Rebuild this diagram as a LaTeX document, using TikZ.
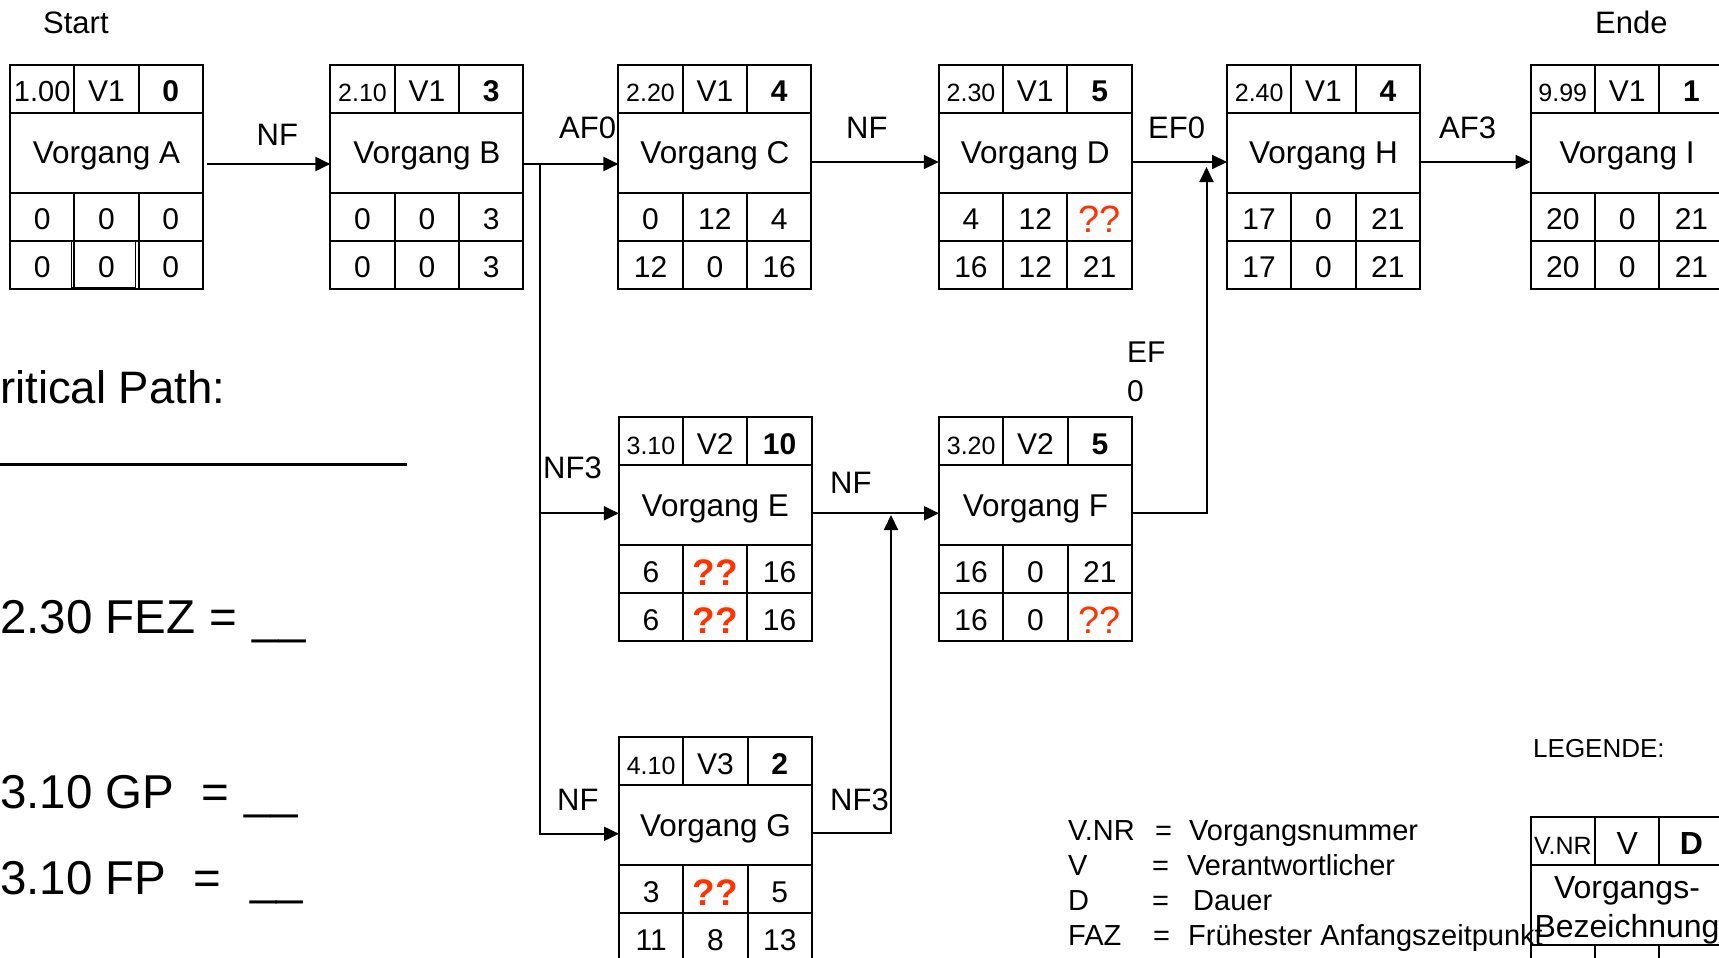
\documentclass[tikz,border=0pt]{standalone}
\usepackage{fontspec}
\setmainfont{Liberation Sans}
\usepackage{xcolor}
\usetikzlibrary{arrows.meta,positioning}

\definecolor{frage}{RGB}{255,51,0}
\newcommand{\fraglich}{\raisebox{-3pt}{\textcolor{frage}{\fontsize{38}{38}\selectfont ??}}}
\newcommand{\fraglichfett}{\raisebox{-3pt}{\textcolor{frage}{\fontsize{37}{37}\selectfont\bfseries ??}}}

\tikzset{
  zelle/.style={draw, line width=2pt, minimum width=64.33pt, minimum height=48pt,
    inner sep=0pt, outer sep=0pt, text height=25.5pt, text depth=0pt,
    font=\fontsize{30}{30}\selectfont},
  nrzelle/.style={zelle, font=\fontsize{25}{25}\selectfont},
  dzelle/.style={zelle, font=\fontsize{30}{30}\selectfont\bfseries},
  namebox/.style={draw, line width=2pt, minimum width=193pt, minimum height=80pt,
    inner sep=0pt, outer sep=0pt, text depth=0pt, font=\fontsize{31.5}{31.5}\selectfont},
  pfeil/.style={line width=2pt, -{Triangle[length=15pt,width=14pt]}},
  lbl/.style={anchor=base west, inner sep=0pt, font=\fontsize{31}{31}\selectfont},
  frage/.style={anchor=base west, inner sep=0pt, font=\fontsize{47.5}{47.5}\selectfont},
  leg/.style={anchor=base west, inner sep=0pt, font=\fontsize{29}{29}\selectfont},
}

% Vorgang: name, x, y (top left), nr, v, dauer, title
\newcommand{\vorgang}[7]{%
  \node (#1) [namebox] at (#2+96.5,#3+88) {#7};
  \node (#1-v) [zelle, above=0pt of #1] {#5};
  \node (#1-nr) [nrzelle, left=0pt of #1-v] {#4};
  \node (#1-d) [dzelle, right=0pt of #1-v] {#6};
}
% Zeiten: name, faz, gp, fez, saz, fp, sez
\newcommand{\zeiten}[7]{%
  \node (#1-gp) [zelle, below=0pt of #1] {#3};
  \node (#1-faz) [zelle, left=0pt of #1-gp] {#2};
  \node (#1-fez) [zelle, right=0pt of #1-gp] {#4};
  \node (#1-fp) [zelle, below=0pt of #1-gp] {#6};
  \node (#1-saz) [zelle, left=0pt of #1-fp] {#5};
  \node (#1-sez) [zelle, right=0pt of #1-fp] {#7};
}

\begin{document}
\begin{tikzpicture}[x=1pt,y=-1pt]
    \useasboundingbox (0,0) rectangle (1719,958);

    % obere Reihe
    \vorgang{A}{10}{65}{\fontsize{29}{29}\selectfont 1.00}{V1}{0}{Vorgang A}
    \zeiten{A}{0}{0}{0}{0}{0}{0}
    \draw[line width=1.2pt] ([xshift=-3pt]A-saz.north east) rectangle ([xshift=-3pt,yshift=1pt]A-fp.south east);
    \vorgang{B}{330.4}{65}{2.10}{V1}{3}{Vorgang B}
    \zeiten{B}{0}{0}{3}{0}{0}{3}
    \vorgang{C}{618.4}{65}{2.20}{V1}{4}{Vorgang C}
    \zeiten{C}{0}{12}{4}{12}{0}{16}
    \vorgang{D}{938.8}{65}{2.30}{V1}{5}{Vorgang D}
    \zeiten{D}{4}{12}{\fraglich}{16}{12}{21}
    \vorgang{H}{1227}{65}{2.40}{V1}{4}{Vorgang H}
    \zeiten{H}{17}{0}{21}{17}{0}{21}
    \vorgang{I}{1530.6}{65}{9.99}{V1}{1}{Vorgang I}
    \zeiten{I}{20}{0}{21}{20}{0}{21}

    % untere Reihen
    \vorgang{E}{618.8}{417.3}{3.10}{V2}{10}{Vorgang E}
    \zeiten{E}{6}{\fraglichfett}{16}{6}{\fraglichfett}{16}
    \vorgang{F}{939}{417.3}{3.20}{V2}{5}{Vorgang F}
    \zeiten{F}{16}{0}{21}{16}{0}{\fraglich}
    \vorgang{G}{619}{737.3}{4.10}{V3}{2}{Vorgang G}
    \zeiten{G}{3}{\fraglichfett}{5}{11}{8}{13}

    % Pfeile
    \coordinate (abzweig) at ([xshift=17pt,yshift=-11pt]B.east);
    \coordinate (gf) at (891,515);
    \coordinate (fh) at (1206.5,167);
    \draw[pfeil] ([xshift=4pt,yshift=-11pt]A.east) -- ([yshift=-11pt]B.west);
    \draw[pfeil] ([yshift=-11pt]B.east) -- ([yshift=-11pt]C.west);
    \draw[pfeil] (abzweig) |- ([yshift=-8pt]E.west);
    \draw[pfeil] (abzweig) |- ([yshift=-8.5pt]G.west);
    \draw[pfeil] ([yshift=-9pt]C.east) -- ([yshift=-9pt]D.west);
    \draw[pfeil] ([yshift=-9pt]D.east) -- ([yshift=-9pt]H.west);
    \draw[pfeil] ([yshift=-9pt]H.east) -- ([yshift=-9pt]I.west);
    \draw[pfeil] ([yshift=-8pt]E.east) -- ([yshift=-8pt]F.west);
    \draw[pfeil] ([yshift=-8pt]G.east) -| (gf);
    \draw[pfeil] ([yshift=-8pt]F.east) -| (fh);

    \node (l-ab) [lbl] at (256.5,145) {NF};
    \node (l-bc) [lbl] at (559,138.3) {AF0};
    \node (l-cd) [lbl] at (846,138.3) {NF};
    \node (l-dh) [lbl] at (1148,138.3) {EF0};
    \node (l-hi) [lbl] at (1439,138.3) {AF3};
    \node (l-be) [lbl] at (543,478) {NF3};
    \node (l-ef) [lbl] at (830,493) {NF};
    \node (l-bg) [lbl] at (557,810) {NF};
    \node (l-gf) [lbl] at (830,810) {NF3};
    \node (l-fh) [lbl, font=\fontsize{30}{30}\selectfont] at (1127,362.7) {EF};
    \node (l-fh0) [lbl, font=\fontsize{30}{30}\selectfont] at (1127,401) {0};

    \node (start) [lbl] at (43,33.3) {Start};
    \node (ende) [lbl] at (1595,33.3) {Ende};

    % Fragen links
    \node (kp) [frage, font=\fontsize{45.5}{45.5}\selectfont] at (0,403.6) {ritical Path:};
    \draw[line width=2.5pt] (-5,464.5) -- (407,464.5);
    \node (fez) [frage] at (0,633) {2.30 FEZ};
    \node (fez-g) [frage] at (209.5,633) {=};
    \node (fez-l) [frage] at (252.5,633) {\_\_};
    \node (gp) [frage] at (0,808) {3.10 GP};
    \node (gp-g) [frage] at (201,808) {=};
    \node (gp-l) [frage] at (244.5,808) {\_\_};
    \node (fp) [frage] at (0,894) {3.10 FP};
    \node (fp-g) [frage] at (193,894) {=};
    \node (fp-l) [frage] at (249.8,894) {\_\_};

    % Legende
    \node (legende) [lbl, font=\fontsize{26}{26}\selectfont] at (1533,757.3) {LEGENDE:};
    \foreach \k/\m/\yy/\xe/\xm [count=\i] in {V.NR/Vorgangsnummer/840/1155/1189,
        V/Verantwortlicher/875/1152/1187, D/Dauer/910/1152/1193,
        FAZ/Frühester Anfangszeitpunkt/945/1153/1188}{
      \node (leg-k\i) [leg] at (1068,\yy) {\k};
      \node (leg-g\i) [leg] at (\xe,\yy) {=};
      \node (leg-m\i) [leg] at (\xm,\yy) {\m};
    }
    \vorgang{L}{1530.7}{817.3}{V.NR}{\fontsize{32}{32}\selectfont V}{\fontsize{32}{32}\selectfont D}{}
    \zeiten{L}{}{}{}{}{}{}
    \node (l-name1) [anchor=base, inner sep=0pt, font=\fontsize{32}{32}\selectfont] at (1627,898.7) {Vorgangs-};
    \node (l-name2) [anchor=base, inner sep=0pt, font=\fontsize{32}{32}\selectfont] at (1627,937) {Bezeichnung};

\end{tikzpicture}
\end{document}
